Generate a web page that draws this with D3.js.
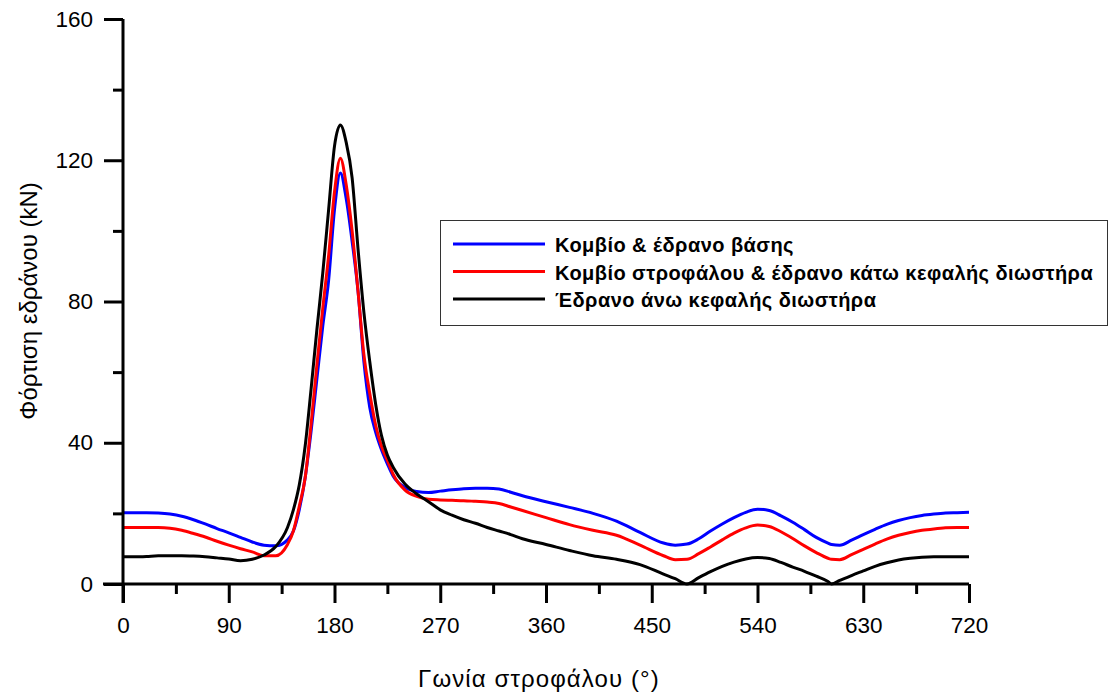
<!DOCTYPE html>
<html>
<head>
<meta charset="utf-8">
<script src="https://cdn.jsdelivr.net/npm/d3@7"></script>
<style>
  body { margin: 0; background: #fff; }
  svg { display: block; font-family: "Liberation Sans", Arial, sans-serif; }
</style>
</head>
<body>
<div id="chart"></div>
<script>
const WIDTH = 1111, HEIGHT = 699

// crank angle (deg) shared by all three series
const angle = [0,10,20,30,40,50,60,70,80,90,100,110,120,130,140,145,150,155,160,165,170,175,180,185,190,195,200,205,210,215,220,225,230,240,250,260,270,280,290,300,310,320,330,340,360,380,400,420,440,460,470,480,490,500,510,520,530,540,550,560,570,580,590,600,603,610,620,630,640,650,660,670,680,690,700,710,720]

// bearing loads (kN)
const blueLoad = [20.2,20.2,20.2,20.1,19.8,19.2,18.2,17.0,15.7,14.5,13.2,11.9,11.0,10.8,12.5,15,21,30,43,58,73,86,106,116.4,109,97,83,63,50,43,38,34,30.5,27.3,26.2,25.9,26.3,26.7,27,27.1,27.1,26.9,26.0,25.0,23.3,21.7,20.0,17.8,14.6,11.6,11.0,11.3,12.8,15.0,17.0,18.8,20.3,21.2,20.8,19.3,17.5,15.4,13.2,11.6,11.2,11.0,12.4,14.0,15.5,16.9,18.0,18.8,19.4,19.8,20.1,20.2,20.3]
const redLoad = [16,16,16,16,15.8,15.2,14.3,13.3,12.1,11,10,9.1,8.0,8.0,11.2,15,22,30,45,62,78,93,111,120.6,113,100,83,65,54,45,39,35,31,26.6,24.8,24,23.8,23.7,23.6,23.4,23.2,22.8,21.8,20.8,18.8,16.8,15.2,13.8,11.0,8.0,6.9,7.0,8.6,10.5,12.5,14.4,15.9,16.7,16.3,14.8,12.9,10.8,8.9,7.3,7.0,6.9,8.3,9.8,11.3,12.7,13.8,14.6,15.2,15.6,15.9,16,16]
const blackLoad = [7.7,7.7,7.8,8.0,8.0,8.0,7.9,7.7,7.4,7.1,6.6,7.0,8.2,10.6,16,21,28,39,55,72,88,106,124,130,125,115,95,77,63,51,42,36.5,33,28.3,25.5,23.3,21,19.5,18.2,17.2,16,15,14,12.8,11.2,9.5,8,7,5.5,2.8,1.5,0,1.8,3.5,5.0,6.2,7.1,7.5,7.2,6.1,4.8,3.6,2.2,0.7,0,1.0,2.4,3.7,5.0,6.0,6.8,7.3,7.6,7.7,7.7,7.7,7.7]

const seriesNames = ["Κομβίο & έδρανο βάσης", "Κομβίο στροφάλου & έδρανο κάτω κεφαλής διωστήρα", "Έδρανο άνω κεφαλής διωστήρα"]
const seriesColors = ["#0000ff", "#ff0000", "#000000"]
const seriesValues = [blueLoad, redLoad, blackLoad]

const xMajor = [0,90,180,270,360,450,540,630,720]
const xMinor = [45,135,225,315,405,495,585,675]
const yMajor = [0,40,80,120,160]
const yMinor = [20,60,100,140]

var margin = {top: 19, right: 142, bottom: 115, left: 123},
    width = WIDTH - margin.left - margin.right,
    height = HEIGHT - margin.top - margin.bottom;

var svg = d3.select("#chart").append("svg")
  .attr("width", WIDTH).attr("height", HEIGHT)
var g = svg.append("g")
  .attr("transform", "translate(" + margin.left + "," + margin.top + ")")

var x = d3.scaleLinear().domain([0, 720]).range([0, width])
var y = d3.scaleLinear().domain([0, 160]).range([height, 0])

// lines
var line = d3.line()
  .x(function(d) { return x(d[0]) })
  .y(function(d) { return y(d[1]) })
  .curve(d3.curveMonotoneX)

seriesValues.forEach(function(vals, i) {
  var pts = angle.map(function(a, j) { return [a, vals[j]] })
  g.append("path")
    .attr("d", line(pts))
    .attr("fill", "none")
    .attr("stroke", seriesColors[i])
    .attr("stroke-width", 3)
    .attr("stroke-linejoin", "round")
})

// x axis
var xAxis = g.append("g").attr("transform", "translate(0," + height + ")")
xAxis.call(d3.axisBottom(x).tickValues(xMajor).tickSize(19).tickPadding(14).tickFormat(d3.format("d")))
xAxis.append("g").call(d3.axisBottom(x).tickValues(xMinor).tickSize(10).tickFormat(""))
  .select(".domain").remove()
xAxis.selectAll(".domain").attr("stroke-width", 3).attr("d", "M-20,0H" + width)
xAxis.selectAll(".tick line").attr("stroke-width", 3)
xAxis.selectAll("text").attr("font-size", 22.5).attr("font-family", "Liberation Sans, Arial, sans-serif").attr("fill", "#000")

// y axis
var yAxis = g.append("g")
yAxis.call(d3.axisLeft(y).tickValues(yMajor).tickSize(19).tickPadding(11).tickFormat(d3.format("d")))
yAxis.append("g").call(d3.axisLeft(y).tickValues(yMinor).tickSize(10).tickFormat(""))
  .select(".domain").remove()
yAxis.selectAll(".domain").attr("stroke-width", 3).attr("d", "M0,0V" + (height + 19))
yAxis.selectAll(".tick line").attr("stroke-width", 3)
yAxis.selectAll("text").attr("font-size", 22.5).attr("font-family", "Liberation Sans, Arial, sans-serif").attr("fill", "#000")

// axis titles
svg.append("text")
  .attr("x", 539).attr("y", 687)
  .attr("text-anchor", "middle")
  .attr("font-size", 24)
  .attr("letter-spacing", 1.1)
  .text("Γωνία στροφάλου (°)")

svg.append("text")
  .attr("transform", "translate(37,301) rotate(-90)")
  .attr("text-anchor", "middle")
  .attr("font-size", 24)
  .text("Φόρτιση εδράνου (kN)")

// legend
var legend = svg.append("g")
legend.append("rect")
  .attr("x", 440.5).attr("y", 220.5).attr("width", 667).attr("height", 105)
  .attr("fill", "#fff").attr("stroke", "#333").attr("stroke-width", 1)

seriesNames.forEach(function(name, i) {
  var ly = 244 + i * 27.5
  legend.append("line")
    .attr("x1", 453).attr("x2", 545).attr("y1", ly).attr("y2", ly)
    .attr("stroke", seriesColors[i]).attr("stroke-width", 3)
  legend.append("text")
    .attr("x", 555).attr("y", ly + 8)
    .attr("font-size", 20).attr("font-weight", "bold")
    .attr("letter-spacing", 0.45)
    .text(name)
})
</script>
</body>
</html>
